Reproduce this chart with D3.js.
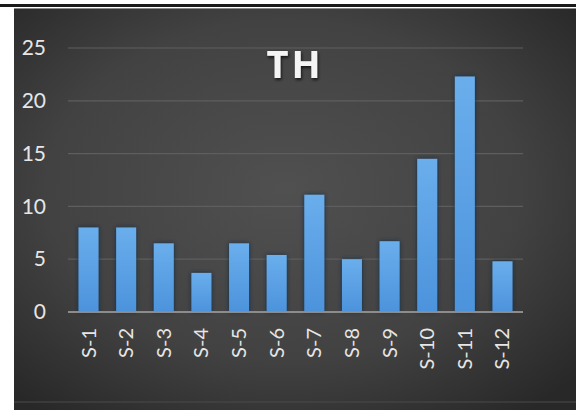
<!DOCTYPE html>
<html>
<head>
<meta charset="utf-8">
<script src="https://cdn.jsdelivr.net/npm/d3@7"></script>
<style>
  html, body { margin: 0; padding: 0; background: #ffffff; }
  svg { display: block; }
</style>
</head>
<body>
<svg id="chart" width="576" height="410"></svg>
<script>
// Series data
const categories = ["S-1","S-2","S-3","S-4","S-5","S-6","S-7","S-8","S-9","S-10","S-11","S-12"];
const values = [8, 8, 6.5, 3.7, 6.5, 5.4, 11.1, 5, 6.7, 14.5, 22.3, 4.8];
const yTicks = [0, 5, 10, 15, 20, 25];
const title = "TH";

const svg = d3.select("#chart");
const W = 576, H = 410;

const defs = svg.append("defs");

// Dark panel with a soft radial light in the middle
const bg = defs.append("radialGradient").attr("id", "bgGrad")
  .attr("cx", "48%").attr("cy", "45%").attr("r", "70%");
bg.append("stop").attr("offset", "0%").attr("stop-color", "#505050");
bg.append("stop").attr("offset", "60%").attr("stop-color", "#424242");
bg.append("stop").attr("offset", "100%").attr("stop-color", "#282828");

const barGrad = defs.append("linearGradient").attr("id", "barGrad")
  .attr("x1", 0).attr("y1", 0).attr("x2", 0).attr("y2", 1);
barGrad.append("stop").attr("offset", "0%").attr("stop-color", "#6aaeec");
barGrad.append("stop").attr("offset", "100%").attr("stop-color", "#4c93dc");

const shadow = defs.append("filter").attr("id", "barShadow")
  .attr("x", "-40%").attr("y", "-10%").attr("width", "180%").attr("height", "120%");
shadow.append("feDropShadow").attr("dx", 0).attr("dy", 0)
  .attr("stdDeviation", 2).attr("flood-color", "#0b2a4a").attr("flood-opacity", 0.9);

const titleShadow = defs.append("filter").attr("id", "titleShadow")
  .attr("x", "-20%").attr("y", "-20%").attr("width", "140%").attr("height", "140%");
titleShadow.append("feDropShadow").attr("dx", 1).attr("dy", 2)
  .attr("stdDeviation", 1.5).attr("flood-color", "#000").attr("flood-opacity", 0.7);

// Outer frame lines at the top
svg.append("rect").attr("x", 0).attr("y", 4).attr("width", W).attr("height", 3).attr("fill", "#1a1a1a");
svg.append("rect").attr("x", 14).attr("y", 8).attr("width", W - 14).attr("height", 1).attr("fill", "#8a8a8a");

// Chart panel
svg.append("rect").attr("x", 14).attr("y", 9).attr("width", W - 14).attr("height", H - 9)
  .attr("fill", "url(#bgGrad)");
svg.append("line").attr("x1", 14).attr("x2", W).attr("y1", 402).attr("y2", 402)
  .attr("stroke", "#4a4a4a").attr("stroke-width", 1);

const plotLeft = 68, plotRight = 523;
const y = d3.scaleLinear().domain([0, 25]).range([312, 48]);
const x = d3.scaleBand().domain(categories).range([plotLeft, plotRight]).paddingInner(0.47).paddingOuter(0.28);

// Horizontal gridlines
svg.append("g").selectAll("line").data(yTicks.filter(d => d > 0)).join("line")
  .attr("x1", plotLeft).attr("x2", plotRight)
  .attr("y1", d => y(d)).attr("y2", d => y(d))
  .attr("stroke", "#5e5e5e").attr("stroke-width", 1.2);

// Y axis labels
const yAxis = d3.axisLeft(y).tickValues(yTicks).tickSize(0).tickPadding(0);
const gy = svg.append("g").attr("transform", "translate(46,0)").call(yAxis);
gy.select(".domain").remove();
gy.selectAll("text")
  .attr("fill", "#e6e6e6")
  .style("font-family", "Lato, 'Open Sans', sans-serif")
  .style("font-size", "21px");

// Bars
svg.append("g").selectAll("rect").data(values).join("rect")
  .attr("x", (d, i) => x(categories[i]))
  .attr("y", d => y(d))
  .attr("width", x.bandwidth())
  .attr("height", d => y(0) - y(d))
  .attr("fill", "url(#barGrad)")
  .attr("filter", "url(#barShadow)");

// Baseline
svg.append("line").attr("x1", plotLeft).attr("x2", plotRight)
  .attr("y1", y(0)).attr("y2", y(0))
  .attr("stroke", "#8c8c8c").attr("stroke-width", 2);

// Category labels, rotated
const xAxis = d3.axisBottom(x).tickSize(0).tickPadding(0);
const gx = svg.append("g").attr("transform", `translate(0,${y(0)})`).call(xAxis);
gx.select(".domain").remove();
gx.selectAll("text")
  .attr("transform", "rotate(-90)")
  .attr("x", -16).attr("y", 0).attr("dy", "0.35em")
  .attr("text-anchor", "end")
  .attr("fill", "#e6e6e6")
  .style("font-family", "Lato, 'Open Sans', sans-serif")
  .style("font-size", "20px");

// Title
svg.append("text")
  .attr("x", 295).attr("y", 78)
  .attr("text-anchor", "middle")
  .attr("fill", "#f4f4f4")
  .attr("filter", "url(#titleShadow)")
  .style("font-family", "'Open Sans', Lato, sans-serif")
  .style("font-weight", "bold")
  .style("font-size", "38px")
  .style("letter-spacing", "3px")
  .text(title);
</script>
</body>
</html>
